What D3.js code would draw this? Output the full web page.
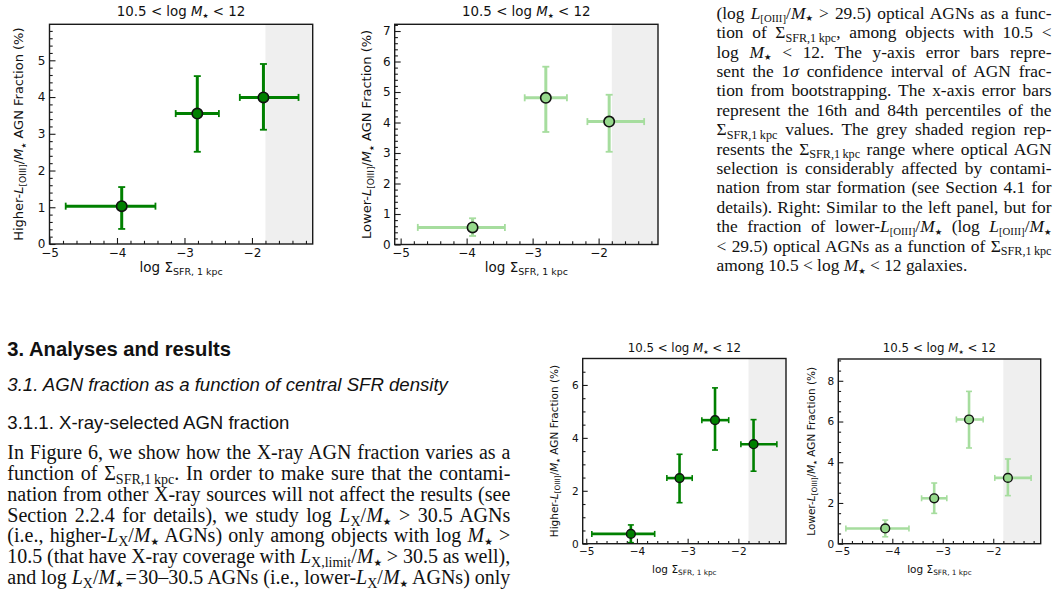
<!DOCTYPE html>
<html><head><meta charset="utf-8">
<script src="https://cdn.jsdelivr.net/npm/d3@7"></script>
<style>
html,body{margin:0;padding:0;background:#fff;}
#root{position:relative;width:1057px;height:599px;overflow:hidden;background:#fff;}
svg{position:absolute;left:0;top:0;}
.ln{position:absolute;white-space:nowrap;}
.serif{font-family:"Liberation Serif","Times New Roman",serif;color:#111;}
.sans{font-family:"Liberation Sans",Arial,sans-serif;color:#111;}
.ln sub{font-size:70%;vertical-align:baseline;position:relative;top:0.28em;}
.ln sub.sm{font-size:62%;}
.ln sub.st{font-size:48%;font-family:"DejaVu Sans",sans-serif;top:0.3em;}
</style></head><body><div id="root"></div>
<script>
// ---------------- DATA ----------------
// Top panels (3 bins)
const sfr3High = [-3.93, -2.81, -1.83];
const sfr3HighLo = [-4.76, -3.13, -2.18];
const sfr3HighHi = [-3.43, -2.49, -1.31];
const frac3High = [1.03, 3.55, 3.99];
const frac3HighLo = [0.41, 2.51, 3.11];
const frac3HighHi = [1.55, 4.57, 4.90];

const sfr3Low = [-3.91, -2.80, -1.84];
const sfr3LowLo = [-4.74, -3.12, -2.17];
const sfr3LowHi = [-3.42, -2.48, -1.31];
const frac3Low = [0.56, 4.81, 4.03];
const frac3LowLo = [0.28, 3.69, 3.04];
const frac3LowHi = [0.86, 5.83, 4.91];

// Bottom panels (4 bins)
const sfr4High = [-4.12, -3.16, -2.46, -1.70];
const sfr4HighLo = [-4.89, -3.41, -2.72, -1.95];
const sfr4HighHi = [-3.65, -2.91, -2.19, -1.24];
const frac4High = [0.37, 2.48, 4.67, 3.76];
const frac4HighLo = [0.04, 1.55, 3.54, 2.74];
const frac4HighHi = [0.71, 3.38, 5.89, 4.69];

const sfr4Low = [-4.14, -3.17, -2.48, -1.71];
const sfr4LowLo = [-4.92, -3.42, -2.73, -1.97];
const sfr4LowHi = [-3.67, -2.92, -2.20, -1.25];
const frac4Low = [0.75, 2.23, 6.10, 3.23];
const frac4LowLo = [0.34, 1.49, 4.70, 2.36];
const frac4LowHi = [1.16, 2.98, 7.48, 4.16];

const shadeStart = -1.8;
const xTickValues = [-5, -4, -3, -2];
const yTicksA = [0, 1, 2, 3, 4, 5];
const yTicksB = [0, 1, 2, 3, 4, 5, 6, 7];
const yTicksC = [0, 2, 4, 6];
const yTicksD = [0, 2, 4, 6, 8];

// ---------------- TEXT ----------------
const ST = '<sub class="st">★</sub>';
const captionLines = [
 '(log <i>L</i><sub class="sm">[OIII]</sub>/<i>M</i>' + ST + ' &gt; 29.5) optical AGNs as a func-',
 'tion of Σ<sub>SFR,1&thinsp;kpc</sub>, among objects with 10.5 &lt;',
 'log <i>M</i>' + ST + ' &lt; 12. The y-axis error bars repre-',
 'sent the 1<i>σ</i> confidence interval of AGN frac-',
 'tion from bootstrapping. The x-axis error bars',
 'represent the 16th and 84th percentiles of the',
 'Σ<sub>SFR,1&thinsp;kpc</sub> values. The grey shaded region rep-',
 'resents the Σ<sub>SFR,1&thinsp;kpc</sub> range where optical AGN',
 'selection is considerably affected by contami-',
 'nation from star formation (see Section 4.1 for',
 'details). Right: Similar to the left panel, but for',
 'the fraction of lower-<i>L</i><sub class="sm">[OIII]</sub>/<i>M</i>' + ST + ' (log <i>L</i><sub class="sm">[OIII]</sub>/<i>M</i>' + ST,
 '&lt; 29.5) optical AGNs as a function of Σ<sub>SFR,1&thinsp;kpc</sub>',
 'among 10.5 &lt; log <i>M</i>' + ST + ' &lt; 12 galaxies.'
];
const bodyLines = [
 'In Figure 6, we show how the X-ray AGN fraction varies as a',
 'function of Σ<sub>SFR,1&thinsp;kpc</sub>. In order to make sure that the contami-',
 'nation from other X-ray sources will not affect the results (see',
 'Section 2.2.4 for details), we study log <i>L</i><sub>X</sub>/<i>M</i>' + ST + ' &gt; 30.5 AGNs',
 '(i.e., higher-<i>L</i><sub>X</sub>/<i>M</i>' + ST + ' AGNs) only among objects with log <i>M</i>' + ST + ' &gt;',
 '10.5 (that have X-ray coverage with <i>L</i><sub>X,limit</sub>/<i>M</i>' + ST + ' &gt; 30.5 as well),',
 'and log <i>L</i><sub>X</sub>/<i>M</i>' + ST + '&#8202;=&#8202;30–30.5 AGNs (i.e., lower-<i>L</i><sub>X</sub>/<i>M</i>' + ST + ' AGNs) only'
];
const headings = [
 {t: '3. Analyses and results', w: 'bold', s: 'normal', fs: 20.2, base: 356.5},
 {t: '3.1. AGN fraction as a function of central SFR density', w: 'normal', s: 'italic', fs: 18.6, base: 392},
 {t: '3.1.1. X-ray-selected AGN fraction', w: 'normal', s: 'normal', fs: 18.6, base: 430}
];

// ---------------- DRAW ----------------
const root = d3.select('#root');
const svg = root.append('svg').attr('width', 1057).attr('height', 599);

function rich(textSel, parts, fs) {
  let shift = 0;
  parts.forEach(p => {
    const ts = textSel.append('tspan').text(p.t);
    let target = p.sub ? fs * 0.22 : (p.star ? fs * 0.2 : 0);
    if (p.sub) ts.attr('font-size', fs * 0.7);
    if (p.star) ts.attr('font-size', fs * 0.5);
    if (p.it) ts.attr('font-style', 'italic');
    if (target !== shift) { ts.attr('dy', target - shift); shift = target; }
  });
}

function panel(cfg) {
  const g = svg.append('g').attr('font-family', 'DejaVu Sans, sans-serif');
  const x = d3.scaleLinear().domain(cfg.xDomain).range([cfg.left, cfg.right]);
  const y = d3.scaleLinear().domain(cfg.yDomain).range([cfg.bottom, cfg.top]);
  g.append('rect').attr('x', x(shadeStart)).attr('y', cfg.top)
    .attr('width', cfg.right - x(shadeStart)).attr('height', cfg.bottom - cfg.top)
    .attr('fill', '#efefef');

  const xMinor = d3.range(-5, cfg.xDomain[1], 0.2).filter(v => v >= cfg.xDomain[0] - 1e-9 && Math.abs(v - Math.round(v)) > 1e-6);
  const yMinor = d3.range(0, cfg.yDomain[1], cfg.yMinorStep).filter(v => Math.abs(v / cfg.yMajorStep - Math.round(v / cfg.yMajorStep)) > 1e-6);

  const fmt = d3.format('d');
  const xa = g.append('g').attr('transform', `translate(0,${cfg.bottom})`)
    .call(d3.axisBottom(x).tickValues(xTickValues).tickFormat(fmt).tickSizeInner(-cfg.major).tickSizeOuter(0).tickPadding(cfg.xPad));
  const xm = g.append('g').attr('transform', `translate(0,${cfg.bottom})`)
    .call(d3.axisBottom(x).tickValues(xMinor).tickFormat('').tickSizeInner(-cfg.minor).tickSizeOuter(0));
  const ya = g.append('g').attr('transform', `translate(${cfg.left},0)`)
    .call(d3.axisLeft(y).tickValues(cfg.yTicks).tickFormat(fmt).tickSizeInner(-cfg.major).tickSizeOuter(0).tickPadding(cfg.yPad));
  const ym = g.append('g').attr('transform', `translate(${cfg.left},0)`)
    .call(d3.axisLeft(y).tickValues(yMinor).tickFormat('').tickSizeInner(-cfg.minor).tickSizeOuter(0));
  [xa, xm, ya, ym].forEach(a => {
    a.select('.domain').remove();
    a.selectAll('line').attr('stroke', '#1a1a1a').attr('stroke-width', 1.1);
    a.selectAll('text').attr('font-size', cfg.tickFs).attr('font-family', 'DejaVu Sans, sans-serif').attr('fill', '#111');
  });

  // error bars
  const n = cfg.xs.length;
  const idx = d3.range(n);
  const eb = g.append('g').attr('stroke', cfg.barColor);
  idx.forEach(i => {
    const cx = x(cfg.xs[i]), cy = y(cfg.ys[i]);
    eb.append('line').attr('x1', x(cfg.xlo[i])).attr('x2', x(cfg.xhi[i])).attr('y1', cy).attr('y2', cy).attr('stroke-width', cfg.lw);
    eb.append('line').attr('x1', cx).attr('x2', cx).attr('y1', y(cfg.ylo[i])).attr('y2', y(cfg.yhi[i])).attr('stroke-width', cfg.lw);
    const c = cfg.cap;
    [x(cfg.xlo[i]), x(cfg.xhi[i])].forEach(px => eb.append('line').attr('x1', px).attr('x2', px).attr('y1', cy - c).attr('y2', cy + c).attr('stroke-width', cfg.capW));
    [y(cfg.ylo[i]), y(cfg.yhi[i])].forEach(py => eb.append('line').attr('y1', py).attr('y2', py).attr('x1', cx - c).attr('x2', cx + c).attr('stroke-width', cfg.capW));
  });
  g.append('g').selectAll('circle').data(idx).join('circle')
    .attr('cx', i => x(cfg.xs[i])).attr('cy', i => y(cfg.ys[i])).attr('r', cfg.r)
    .attr('fill', cfg.color).attr('stroke', '#111').attr('stroke-width', cfg.mew);

  g.append('rect').attr('x', cfg.left).attr('y', cfg.top).attr('width', cfg.right - cfg.left)
    .attr('height', cfg.bottom - cfg.top).attr('fill', 'none').attr('stroke', '#1a1a1a').attr('stroke-width', 1.4);

  // title
  const cxm = (cfg.left + cfg.right) / 2;
  const t = g.append('text').attr('x', cxm).attr('y', cfg.titleY).attr('text-anchor', 'middle')
    .attr('font-size', cfg.titleFs).attr('fill', '#111').attr('xml:space', 'preserve');
  rich(t, [{t: '10.5 < log '}, {t: 'M', it: true}, {t: '★', star: true}, {t: ' < 12'}], cfg.titleFs);
  // x label
  const xl = g.append('text').attr('x', cxm).attr('y', cfg.xlabY).attr('text-anchor', 'middle')
    .attr('font-size', cfg.xlabFs).attr('fill', '#111');
  rich(xl, [{t: 'log Σ'}, {t: 'SFR, 1 kpc', sub: true}], cfg.xlabFs);
  // y label
  const yl = g.append('text').attr('transform', `translate(${cfg.ylabX},${(cfg.top + cfg.bottom) / 2}) rotate(-90)`)
    .attr('text-anchor', 'middle').attr('font-size', cfg.ylabFs).attr('fill', '#111');
  rich(yl, [{t: cfg.prefix}, {t: 'L', it: true}, {t: '[OIII]', sub: true}, {t: '/'}, {t: 'M', it: true}, {t: '★', star: true}, {t: ' AGN Fraction (%)'}], cfg.ylabFs);
}

const dark = '#008000', light = '#96d98c', lightBar = '#a6dd9e';
const big = {major: 6, minor: 3.2, tickFs: 12, xPad: 4, yPad: 4, lw: 3, capW: 1.8, cap: 3.5, r: 5.2, mew: 1.6,
  titleFs: 13.4, xlabFs: 13.5, ylabFs: 13, titleY: 15.5, xlabY: 272, yMajorStep: 1, yMinorStep: 0.2};
const small = {major: 5, minor: 2.8, tickFs: 10.5, xPad: 4, yPad: 4, lw: 2.6, capW: 1.6, cap: 3, r: 4.4, mew: 1.4,
  titleFs: 11.8, xlabFs: 10.5, ylabFs: 10.5, yMajorStep: 2, yMinorStep: 0.5};

panel(Object.assign({}, big, {left: 49.5, right: 312.7, top: 24.3, bottom: 244, xDomain: [-5.0, -1.1], yDomain: [0, 5.98],
  yTicks: yTicksA, xs: sfr3High, xlo: sfr3HighLo, xhi: sfr3HighHi, ys: frac3High, ylo: frac3HighLo, yhi: frac3HighHi,
  color: dark, barColor: dark, ylabX: 23, prefix: 'Higher-'}));
panel(Object.assign({}, big, {left: 394.7, right: 658, top: 24.3, bottom: 244.5, xDomain: [-5.09, -1.1], yDomain: [0, 7.22],
  yTicks: yTicksB, xs: sfr3Low, xlo: sfr3LowLo, xhi: sfr3LowHi, ys: frac3Low, ylo: frac3LowLo, yhi: frac3LowHi,
  color: light, barColor: lightBar, ylabX: 371, prefix: 'Lower-'}));
panel(Object.assign({}, small, {left: 582.7, right: 786, top: 358.5, bottom: 543.7, xDomain: [-5.07, -1.06], yDomain: [0, 7.0],
  yTicks: yTicksC, xs: sfr4High, xlo: sfr4HighLo, xhi: sfr4HighHi, ys: frac4High, ylo: frac4HighLo, yhi: frac4HighHi,
  color: dark, barColor: dark, ylabX: 558, prefix: 'Higher-', titleY: 352, xlabY: 572.5}));
panel(Object.assign({}, small, {left: 838.3, right: 1040.7, top: 359, bottom: 543.7, xDomain: [-5.07, -1.06], yDomain: [0, 9.07],
  yTicks: yTicksD, xs: sfr4Low, xlo: sfr4LowLo, xhi: sfr4LowHi, ys: frac4Low, ylo: frac4LowLo, yhi: frac4LowHi,
  color: light, barColor: lightBar, ylabX: 815, prefix: 'Lower-', titleY: 352, xlabY: 572.5}));

// prose
function placeLine(html, cls, left, base, fs, width, justify, extraStyle) {
  const asc = cls === 'serif' ? 0.891 : 0.905, desc = cls === 'serif' ? 0.216 : 0.212;
  const L = fs * 1.2;
  const top = base - (L / 2 + (asc - desc) * fs / 2);
  const d = root.append('div').attr('class', 'ln ' + cls)
    .style('left', left + 'px').style('top', top + 'px')
    .style('font-size', fs + 'px').style('line-height', L + 'px').html(html);
  if (extraStyle) Object.entries(extraStyle).forEach(([k, v]) => d.style(k, v));
  if (justify) {
    const node = d.node();
    const w = node.getBoundingClientRect().width;
    const nsp = (node.textContent.match(/[ \u00a0]/g) || []).length;
    if (nsp > 0) d.style('word-spacing', ((width - w) / nsp) + 'px');
  }
  return d;
}
captionLines.forEach((h, i) => placeLine(h, 'serif', 716.5, 19.2 + i * 19.4, 17.4, 335, i < captionLines.length - 1));
bodyLines.forEach((h, i) => placeLine(h, 'serif', 7.3, 459 + i * 20.8, 20, 503, true));
headings.forEach(hd => placeLine(hd.t, 'sans', 7.3, hd.base, hd.fs, 0, false, {'font-weight': hd.w, 'font-style': hd.s}));
</script>
</body></html>
